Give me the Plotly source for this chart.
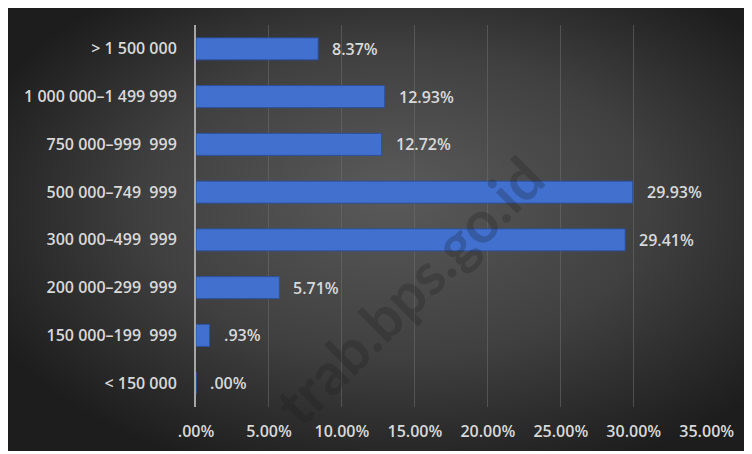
import base64
import plotly.graph_objects as go

categories = ["< 150 000", "150 000–199  999", "200 000–299  999", "300 000–499  999",
              "500 000–749  999", "750 000–999  999", "1 000 000–1 499 999", "> 1 500 000"]
values = [0.00, 0.93, 5.71, 29.41, 29.93, 12.72, 12.93, 8.37]
tick_vals = [0, 5, 10, 15, 20, 25, 30, 35]
tick_text = [".00%", "5.00%", "10.00%", "15.00%", "20.00%", "25.00%", "30.00%", "35.00%"]


def fmt(v):
    s = f"{v:.2f}%"
    return s[1:] if s.startswith("0") else s


labels = [fmt(v) for v in values]

# page has an 8px body margin; work in figure coordinates
OFF = 8
W, H = 752 - OFF, 454 - OFF
L, R, T, B = 196 - OFF, 45, 25 - OFF, 47
pw, ph = W - L - R, H - T - B

svg = """<svg xmlns='http://www.w3.org/2000/svg' width='744' height='448' viewBox='0 0 744 448' preserveAspectRatio='none'>
<defs><radialGradient id='g' cx='54%' cy='47%' r='62%' fx='52%' fy='42%'>
<stop offset='0' stop-color='#5a5a5a'/><stop offset='0.55' stop-color='#404040'/><stop offset='1' stop-color='#1d1d1d'/>
</radialGradient></defs><rect width='744' height='448' fill='url(#g)'/></svg>"""
src = "data:image/svg+xml;base64," + base64.b64encode(svg.encode()).decode()

font = "'Open Sans', Lato, sans-serif"
txtcol = "#d9d9d9"
fs = 16


def px(x):
    return (x - OFF - L) / pw


def py(y):
    return (H - B - (y - OFF)) / ph


fig = go.Figure()
fig.add_trace(go.Bar(
    y=categories, x=values, orientation="h", width=0.46,
    marker=dict(color="#4170cf", line=dict(color="#2c52a0", width=1)),
    hoverinfo="skip",
))

for c, v, lab in zip(categories, values, labels):
    fig.add_annotation(x=v, y=c, xref="x", yref="y", text=lab, showarrow=False,
                       xanchor="left", xshift=12,
                       font=dict(family=font, size=fs, color=txtcol, weight=600))

fig.add_annotation(x=px(408), y=py(290), xref="paper", yref="paper",
                   xanchor="center", yanchor="middle",
                   text="trab.bps.go.id", showarrow=False, textangle=-45,
                   font=dict(family="Lato, sans-serif", size=58, color="rgba(25,25,25,0.24)", weight="bold"))

fig.add_layout_image(dict(source=src, xref="paper", yref="paper",
                          x=px(4), y=py(3),
                          sizex=744 / pw, sizey=448 / ph,
                          sizing="stretch", xanchor="left", yanchor="top", layer="below"))

fig.update_layout(
    width=W, height=H,
    margin=dict(l=L, r=R, t=T, b=B),
    paper_bgcolor="white",
    plot_bgcolor="rgba(0,0,0,0)",
    showlegend=False,
    xaxis=dict(range=[0, 35.02], tickvals=tick_vals, ticktext=tick_text,
               showgrid=True, gridcolor="rgba(110,110,110,0.55)", gridwidth=1,
               zeroline=False, showline=False, ticks="", ticklabelstandoff=13,
               tickfont=dict(family=font, size=fs, color=txtcol, weight=600),
               fixedrange=True),
    yaxis=dict(categoryorder="array", categoryarray=categories, range=[-0.5, 7.5],
               showgrid=False, zeroline=False, showline=True, linecolor="#a6a6a6",
               linewidth=2, ticks="", ticklabelstandoff=14,
               tickfont=dict(family=font, size=fs, color=txtcol, weight=600),
               fixedrange=True),
)

fig.write_html("out.html")
